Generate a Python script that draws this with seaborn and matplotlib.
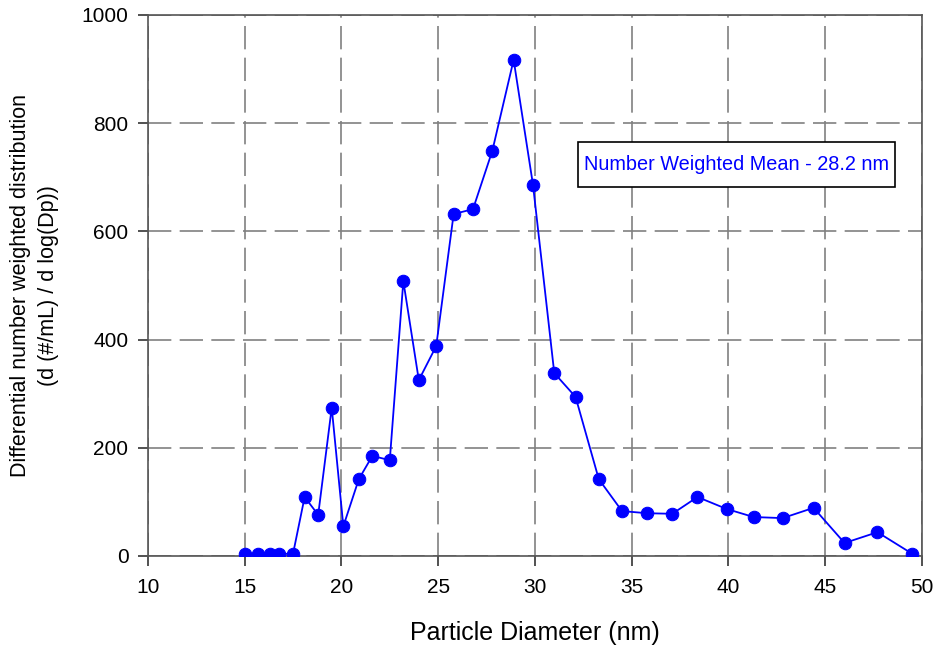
import matplotlib
matplotlib.use("Agg")
import matplotlib.pyplot as plt
from matplotlib.patches import Rectangle
import seaborn as sns
import pandas as pd

diameter_nm = [15.0, 15.7, 16.3, 16.8, 17.5, 18.1, 18.8, 19.5, 20.1, 20.9, 21.6, 22.5,
               23.2, 24.0, 24.9, 25.8, 26.8, 27.8, 28.9, 29.9, 31.0, 32.1, 33.3, 34.5,
               35.8, 37.1, 38.4, 39.9, 41.3, 42.8, 44.4, 46.0, 47.7, 49.5]
distribution = [4, 4, 4, 4, 4, 109, 76, 274, 55, 142, 185, 177,
                508, 325, 388, 632, 641, 749, 917, 686, 338, 294, 142, 83,
                79, 78, 109, 87, 72, 70, 89, 24, 44, 4]
x_ticks = [10, 15, 20, 25, 30, 35, 40, 45, 50]
y_ticks = [0, 200, 400, 600, 800, 1000]

sns.set_theme(style="white")
plt.rcParams['font.family'] = ['Liberation Sans', 'DejaVu Sans']

df = pd.DataFrame({"d": diameter_nm, "v": distribution})

fig = plt.figure(figsize=(9.36, 6.48), dpi=100)
ax = fig.add_axes([0.158, 0.142, 0.827, 0.835])

sns.lineplot(data=df, x="d", y="v", ax=ax, color="#0000FF", linewidth=1.3,
             marker="o", markersize=9, markeredgecolor="#0000FF", zorder=3)

ax.set_xlim(10, 50)
ax.set_ylim(0, 1000)
ax.set_xticks(x_ticks)
ax.set_yticks(y_ticks)
ax.grid(True, color="#808080", linestyle=(0, (14, 5)), linewidth=1.2)
for s in ax.spines.values():
    s.set_color("#555555")
    s.set_linewidth(1.2)
ax.tick_params(axis="both", direction="out", length=7, width=1.2, color="#333333",
               labelsize=15, labelcolor="black", bottom=True, left=True)
ax.tick_params(axis="x", pad=9)
ax.tick_params(axis="y", pad=7)
ax.set_xlabel("Particle Diameter (nm)", fontsize=18, labelpad=17, color="black")
ax.set_ylabel("Differential number weighted distribution\n(d (#/mL) / d log(Dp))",
              fontsize=15.5, labelpad=16, linespacing=1.45, color="black")

ax.add_patch(Rectangle((0.5556, 0.682), 0.4094, 0.083, transform=ax.transAxes,
                       facecolor="white", edgecolor="black", linewidth=1.2, zorder=4))
ax.text(0.760, 0.7237, "Number Weighted Mean - 28.2 nm", transform=ax.transAxes,
        color="#0000FF", fontsize=14.3, ha="center", va="center", zorder=5)

fig.savefig("out.png", dpi=100)
